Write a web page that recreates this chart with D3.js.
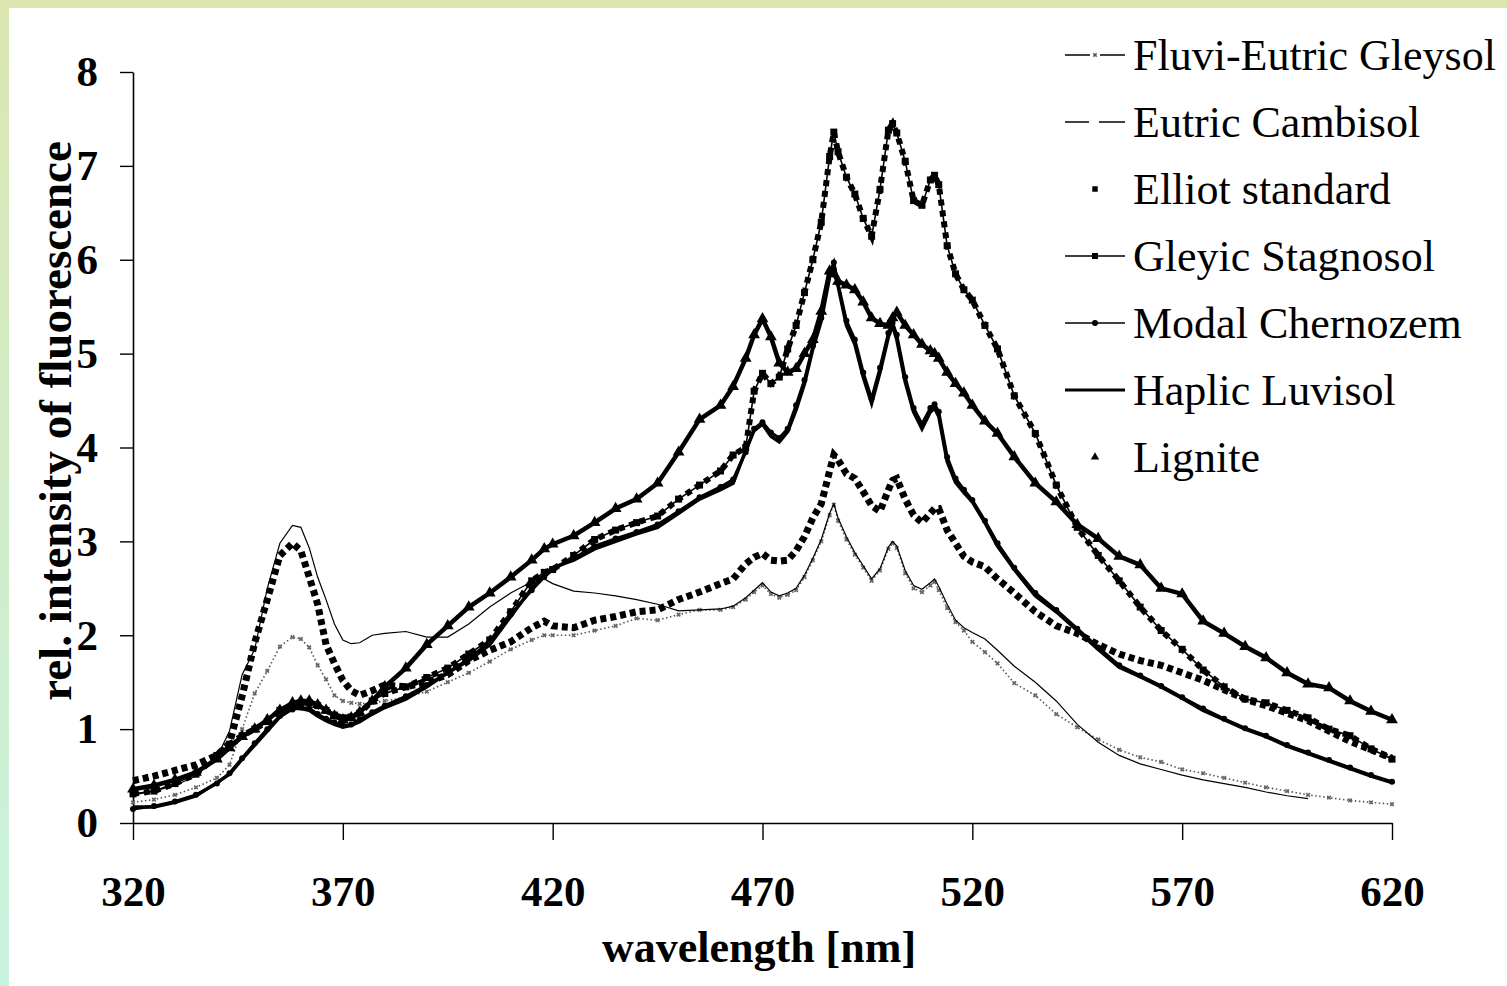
<!DOCTYPE html>
<html>
<head>
<meta charset="utf-8">
<script src="https://cdn.jsdelivr.net/npm/d3@7"></script>
<style>
  body { margin: 0; background: #fff; }
  svg { display: block; }
  text { font-family: "Liberation Serif", "Times New Roman", serif; fill: #000; }
</style>
</head>
<body>
<script>
// Fluorescence spectra of soil humic acids.
// One shared wavelength grid, one value array per sample.
const wavelength = [320,325,330,335,340,343,346,349,352,355,358,360,362,364,366,368,370,372,374,377,
  380,385,390,395,400,405,410,415,418,420,425,430,435,440,445,450,455,460,463,466,
  468,470,472,474,476,478,480,482,484,486,487,488,490,492,494,496,498,500,501,502,
  504,506,508,510,511,512,514,516,518,520,523,526,530,535,540,545,550,555,560,565,
  570,575,580,585,590,595,600,605,610,615,620];

const fluviEutricGleysol = [0.22,0.25,0.30,0.38,0.48,0.62,1.00,1.38,1.62,1.88,1.98,1.96,1.87,1.68,1.53,1.36,1.30,1.28,1.27,1.28,
  1.30,1.34,1.40,1.50,1.60,1.72,1.85,1.95,2.00,2.00,2.00,2.05,2.10,2.18,2.16,2.22,2.27,2.27,2.30,2.38,
  2.46,2.53,2.44,2.40,2.43,2.48,2.62,2.80,3.00,3.28,3.39,3.22,3.02,2.86,2.72,2.58,2.69,2.92,2.98,2.93,
  2.66,2.50,2.46,2.53,2.57,2.48,2.29,2.14,2.05,1.93,1.82,1.70,1.49,1.36,1.16,1.02,0.89,0.78,0.70,0.65,
  0.57,0.53,0.48,0.43,0.38,0.34,0.30,0.27,0.24,0.22,0.20];

const eutricCambisol = [0.30,0.34,0.40,0.50,0.70,0.98,1.58,1.85,2.50,2.98,3.17,3.15,2.93,2.62,2.38,2.12,1.95,1.91,1.92,2.00,
  2.02,2.04,1.98,1.98,2.12,2.30,2.45,2.57,2.60,2.55,2.47,2.45,2.42,2.38,2.33,2.26,2.27,2.28,2.31,2.40,
  2.48,2.56,2.46,2.42,2.45,2.50,2.64,2.82,3.02,3.30,3.40,3.25,3.05,2.88,2.74,2.60,2.71,2.94,3.00,2.95,
  2.69,2.53,2.49,2.56,2.60,2.52,2.33,2.16,2.08,2.03,1.96,1.84,1.67,1.50,1.30,1.05,0.86,0.72,0.63,0.57,
  0.51,0.46,0.42,0.38,0.33,0.29,0.26,null,null,null,null];

const elliotStandard = [0.45,0.50,0.56,0.62,0.72,0.85,1.35,1.92,2.38,2.85,2.98,2.90,2.62,2.33,1.90,1.70,1.52,1.41,1.36,1.41,
  1.47,1.45,1.50,1.58,1.73,1.84,1.93,2.08,2.15,2.10,2.08,2.16,2.20,2.25,2.27,2.38,2.46,2.55,2.60,2.76,
  2.83,2.87,2.80,2.79,2.80,2.90,3.05,3.25,3.40,3.75,3.92,3.87,3.72,3.67,3.53,3.38,3.32,3.55,3.65,3.67,
  3.45,3.28,3.20,3.30,3.35,3.35,3.12,2.98,2.84,2.78,2.73,2.60,2.45,2.25,2.10,2.02,1.90,1.80,1.73,1.68,
  1.60,1.52,1.42,1.32,1.25,1.17,1.09,0.98,0.87,0.78,0.69];

const gleyicStagnosol = [0.31,0.34,0.42,0.52,0.72,0.84,0.93,1.00,1.08,1.20,1.25,1.28,1.28,1.25,1.20,1.15,1.12,1.13,1.17,1.30,
  1.38,1.45,1.55,1.65,1.80,1.95,2.25,2.58,2.67,2.70,2.85,3.02,3.12,3.20,3.27,3.45,3.60,3.75,3.92,4.00,
  4.60,4.79,4.68,4.75,5.05,5.30,5.65,6.00,6.40,7.10,7.36,7.15,6.88,6.70,6.44,6.25,6.75,7.38,7.45,7.35,
  7.05,6.63,6.58,6.85,6.90,6.80,6.15,5.85,5.68,5.57,5.30,5.05,4.55,4.15,3.60,3.15,2.85,2.58,2.30,2.05,
  1.85,1.63,1.45,1.32,1.28,1.20,1.12,1.00,0.93,0.79,0.68];

const modalChernozem = [0.15,0.18,0.23,0.30,0.42,0.53,0.69,0.85,1.00,1.14,1.21,1.23,1.22,1.16,1.11,1.07,1.04,1.05,1.10,1.18,
  1.25,1.35,1.47,1.60,1.75,1.93,2.22,2.48,2.62,2.70,2.82,2.95,3.03,3.10,3.18,3.32,3.47,3.58,3.66,3.95,
  4.20,4.27,4.16,4.10,4.20,4.45,4.72,5.08,5.38,5.85,5.97,5.75,5.35,5.15,4.80,4.52,4.85,5.22,5.33,5.20,
  4.75,4.42,4.25,4.42,4.46,4.38,3.90,3.67,3.55,3.44,3.22,2.98,2.72,2.45,2.27,2.07,1.87,1.68,1.57,1.46,
  1.34,1.22,1.11,1.01,0.93,0.83,0.75,0.67,0.59,0.51,0.44];

const haplicLuvisol = [0.17,0.17,0.22,0.29,0.43,0.52,0.68,0.83,0.98,1.13,1.22,1.22,1.20,1.14,1.09,1.05,1.02,1.04,1.08,1.16,
  1.23,1.32,1.45,1.60,1.73,1.90,2.20,2.50,2.65,2.72,2.80,2.92,3.00,3.08,3.15,3.30,3.45,3.55,3.62,3.97,
  4.18,4.25,4.12,4.06,4.17,4.40,4.68,5.05,5.35,5.82,5.95,5.72,5.30,5.10,4.75,4.47,4.80,5.18,5.30,5.15,
  4.70,4.38,4.20,4.38,4.42,4.33,3.85,3.63,3.52,3.42,3.20,2.95,2.70,2.42,2.25,2.05,1.85,1.66,1.56,1.45,
  1.33,1.20,1.10,1.00,0.92,0.82,0.74,0.66,0.58,0.50,0.43];

const lignite = [0.36,0.40,0.46,0.54,0.68,0.80,0.92,1.00,1.10,1.20,1.28,1.30,1.30,1.26,1.20,1.14,1.10,1.12,1.18,1.30,
  1.45,1.65,1.90,2.10,2.30,2.45,2.62,2.80,2.92,2.97,3.06,3.20,3.35,3.45,3.62,3.95,4.30,4.45,4.65,4.95,
  5.20,5.37,5.18,4.90,4.80,4.84,5.00,5.15,5.45,5.88,5.85,5.77,5.73,5.68,5.55,5.38,5.32,5.30,5.38,5.44,
  5.30,5.20,5.10,5.03,5.00,4.95,4.80,4.68,4.58,4.45,4.28,4.15,3.90,3.62,3.42,3.18,3.03,2.84,2.75,2.50,
  2.44,2.15,2.02,1.88,1.76,1.60,1.48,1.44,1.30,1.19,1.10];

const seriesNames = ["Fluvi-Eutric Gleysol", "Eutric Cambisol", "Elliot standard", "Gleyic Stagnosol",
                     "Modal Chernozem", "Haplic Luvisol", "Lignite"];
const seriesValues = [fluviEutricGleysol, eutricCambisol, elliotStandard, gleyicStagnosol,
                      modalChernozem, haplicLuvisol, lignite];

const xTicks = [320, 370, 420, 470, 520, 570, 620];
const yTicks = [0, 1, 2, 3, 4, 5, 6, 7, 8];

const width = 1507, height = 986;

const svg = d3.select("body").append("svg")
  .attr("width", width)
  .attr("height", height);

// greenish frame round the white page (top strip + left strip)
const defs = svg.append("defs");
const grad = defs.append("linearGradient")
  .attr("id", "frame").attr("x1", 0).attr("y1", 0).attr("x2", 0).attr("y2", 1);
grad.append("stop").attr("offset", "0%").attr("stop-color", "#dbe6b2");
grad.append("stop").attr("offset", "100%").attr("stop-color", "#c8f3df");
svg.append("rect").attr("width", width).attr("height", height).attr("fill", "url(#frame)");
svg.append("rect").attr("width", width).attr("height", 8).attr("fill", "#dde6b1");
svg.append("rect").attr("x", 9).attr("y", 8)
  .attr("width", width - 9).attr("height", height - 8).attr("fill", "#fff");

// scales
const x = d3.scaleLinear().domain([320, 620]).range([133, 1392]);
const y = d3.scaleLinear().domain([0, 8]).range([823, 72]);

// axes
const xAxis = svg.append("g")
  .attr("transform", `translate(0,${y(0)})`)
  .call(d3.axisBottom(x).tickValues(xTicks).tickSize(17).tickSizeOuter(0).tickPadding(35));
const yAxis = svg.append("g")
  .attr("transform", `translate(${x(320)},0)`)
  .call(d3.axisLeft(y).tickValues(yTicks).tickSize(13).tickSizeOuter(0).tickPadding(22));

[xAxis, yAxis].forEach(a => {
  a.select(".domain").attr("stroke", "#000").attr("stroke-width", 1.6);
  a.selectAll(".tick line").attr("stroke", "#000").attr("stroke-width", 1.4);
  a.selectAll(".tick text")
    .attr("fill", "#000")
    .style("font-family", '"Liberation Serif", "Times New Roman", serif')
    .style("font-size", "43px")
    .style("font-weight", "bold");
});

// axis titles
svg.append("text")
  .attr("x", 759).attr("y", 962)
  .attr("text-anchor", "middle")
  .style("font-size", "44px").style("font-weight", "bold")
  .text("wavelength [nm]");

svg.append("text")
  .attr("transform", "translate(71,421) rotate(-90)")
  .attr("text-anchor", "middle")
  .style("font-size", "47px").style("font-weight", "bold")
  .text("rel. intensity of fluorescence");

// series data
const series = seriesNames.map((name, i) => ({
  name: name,
  points: wavelength.map((w, j) => ({w: w, v: seriesValues[i][j]}))
}));

const line = d3.line()
  .defined(d => d.v != null)
  .x(d => x(d.w))
  .y(d => y(d.v));

const plot = svg.append("g");
const sym = (type, size) => d3.symbol().type(type).size(size)();

// Fluvi-Eutric Gleysol: dotted grey with little x marks
plot.append("path").datum(series[0].points)
  .attr("d", line).attr("fill", "none")
  .attr("stroke", "#555").attr("stroke-width", 1.6).attr("stroke-dasharray", "1.5,2.5");
plot.append("g").selectAll("path").data(series[0].points).join("path")
  .attr("transform", d => `translate(${x(d.w)},${y(d.v)}) rotate(45)`)
  .attr("d", sym(d3.symbolCross, 14)).attr("fill", "#666");

// Eutric Cambisol: thin line
plot.append("path").datum(series[1].points)
  .attr("d", line).attr("fill", "none")
  .attr("stroke", "#000").attr("stroke-width", 1.2);

// Elliot standard: squares only -> chain of square dashes
plot.append("path").datum(series[2].points)
  .attr("d", line).attr("fill", "none")
  .attr("stroke", "#000").attr("stroke-width", 7).attr("stroke-dasharray", "6,4");

// Gleyic Stagnosol: line with squares
plot.append("path").datum(series[3].points)
  .attr("d", line).attr("fill", "none")
  .attr("stroke", "#000").attr("stroke-width", 1.6);
plot.append("path").datum(series[3].points)
  .attr("d", line).attr("fill", "none")
  .attr("stroke", "#000").attr("stroke-width", 6).attr("stroke-dasharray", "6,5");
plot.append("g").selectAll("path").data(series[3].points).join("path")
  .attr("transform", d => `translate(${x(d.w)},${y(d.v)})`)
  .attr("d", sym(d3.symbolSquare, 49)).attr("fill", "#000");

// Modal Chernozem: line with dots
plot.append("path").datum(series[4].points)
  .attr("d", line).attr("fill", "none")
  .attr("stroke", "#000").attr("stroke-width", 3);
plot.append("g").selectAll("circle").data(series[4].points).join("circle")
  .attr("cx", d => x(d.w)).attr("cy", d => y(d.v)).attr("r", 3).attr("fill", "#000");

// Haplic Luvisol: heavy line
plot.append("path").datum(series[5].points)
  .attr("d", line).attr("fill", "none")
  .attr("stroke", "#000").attr("stroke-width", 3.5);

// Lignite: triangles
plot.append("path").datum(series[6].points)
  .attr("d", line).attr("fill", "none")
  .attr("stroke", "#000").attr("stroke-width", 4.5);
plot.append("g").selectAll("path").data(series[6].points).join("path")
  .attr("transform", d => `translate(${x(d.w)},${y(d.v)})`)
  .attr("d", sym(d3.symbolTriangle, 60)).attr("fill", "#000");

// legend
const legend = svg.append("g");
const lx0 = 1065, lx1 = 1125, lxm = 1095;
seriesNames.forEach((name, i) => {
  const ry = 55 + i * 67;
  const g = legend.append("g");
  if (i === 0) {
    g.append("line").attr("x1", lx0).attr("x2", lxm - 5).attr("y1", ry).attr("y2", ry).attr("stroke", "#000").attr("stroke-width", 1.5);
    g.append("line").attr("x1", lxm + 5).attr("x2", lx1).attr("y1", ry).attr("y2", ry).attr("stroke", "#000").attr("stroke-width", 1.5);
    g.append("path").attr("transform", `translate(${lxm},${ry}) rotate(45)`).attr("d", sym(d3.symbolCross, 12)).attr("fill", "#555");
  } else if (i === 1) {
    g.append("line").attr("x1", lx0).attr("x2", lxm - 6).attr("y1", ry).attr("y2", ry).attr("stroke", "#000").attr("stroke-width", 1.5);
    g.append("line").attr("x1", lxm + 4).attr("x2", lx1).attr("y1", ry).attr("y2", ry).attr("stroke", "#000").attr("stroke-width", 1.5);
  } else if (i === 2) {
    g.append("path").attr("transform", `translate(${lxm},${ry})`).attr("d", sym(d3.symbolSquare, 30)).attr("fill", "#000");
  } else if (i === 3) {
    g.append("line").attr("x1", lx0).attr("x2", lx1).attr("y1", ry).attr("y2", ry).attr("stroke", "#000").attr("stroke-width", 1.5);
    g.append("path").attr("transform", `translate(${lxm},${ry})`).attr("d", sym(d3.symbolSquare, 36)).attr("fill", "#000");
  } else if (i === 4) {
    g.append("line").attr("x1", lx0).attr("x2", lx1).attr("y1", ry).attr("y2", ry).attr("stroke", "#000").attr("stroke-width", 1.5);
    g.append("circle").attr("cx", lxm).attr("cy", ry).attr("r", 3).attr("fill", "#000");
  } else if (i === 5) {
    g.append("line").attr("x1", lx0).attr("x2", lx1).attr("y1", ry).attr("y2", ry).attr("stroke", "#000").attr("stroke-width", 3);
  } else {
    g.append("path").attr("transform", `translate(${lxm},${ry})`).attr("d", sym(d3.symbolTriangle, 30)).attr("fill", "#000");
  }
  g.append("text")
    .attr("x", 1133).attr("y", ry + 15)
    .style("font-size", "44px")
    .text(name);
});
</script>
</body>
</html>
